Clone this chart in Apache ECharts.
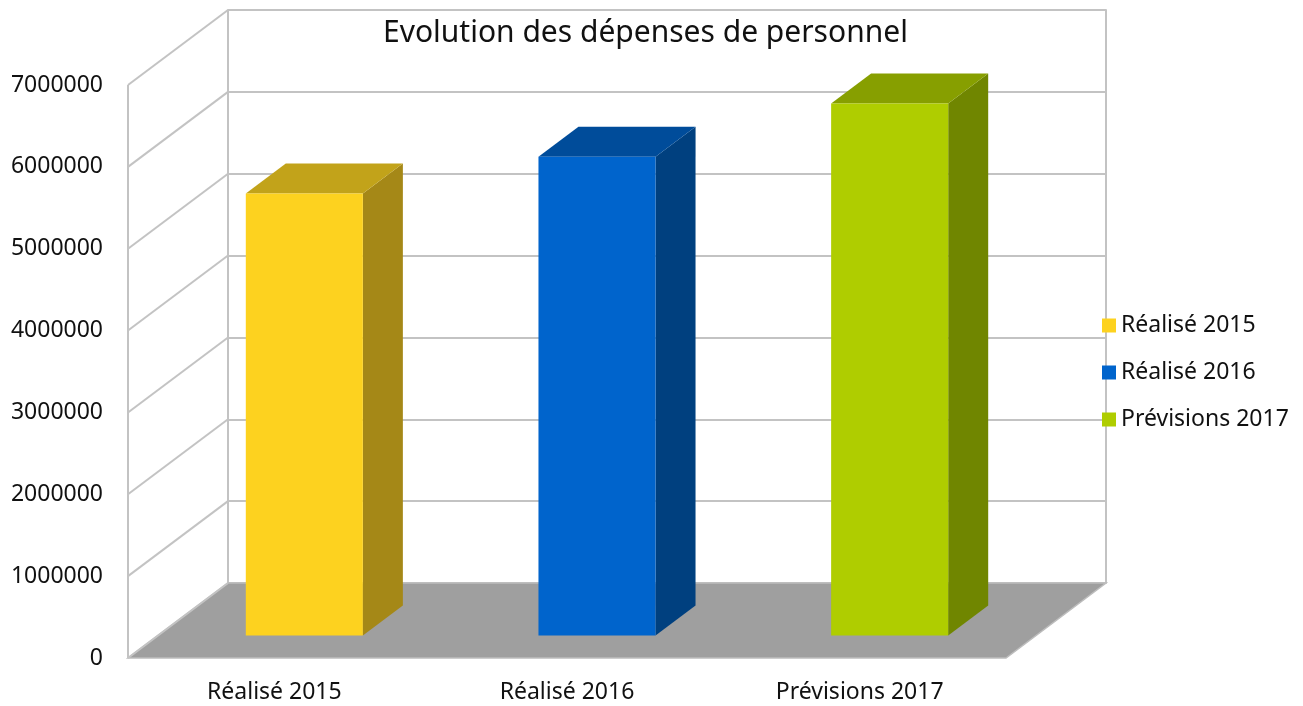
<!DOCTYPE html>
<html>
<head>
<meta charset="utf-8">
<script src="https://cdn.jsdelivr.net/npm/echarts@6/dist/echarts.min.js"></script>
<style>
  html, body { margin: 0; padding: 0; background: #fff; }
  #chart { width: 1303px; height: 706px; }
</style>
</head>
<body>
<div id="chart"></div>
<script>
const categories = ['Réalisé 2015', 'Réalisé 2016', 'Prévisions 2017']
const values = [5400000, 5850000, 6500000]
const yTicks = [0, 1000000, 2000000, 3000000, 4000000, 5000000, 6000000, 7000000]

// face colours: front, top, side
const frontColors = ['#fdd21f', '#0064cc', '#afcd00']
const topColors = ['#c2a31a', '#004c9a', '#879f00']
const sideColors = ['#a58817', '#00407f', '#708600']

// oblique depth of the box (pixels) and bar depth span
const DX = 100
const DY = 75
const F0 = 0.3
const F1 = 0.7
const GRID_LINE = '#c3c3c3'

const chart = echarts.init(document.getElementById('chart'))

const renderFloor = (params, api) => {
  const cs = params.coordSys
  const y = api.coord([0, 0])[1]
  return {
    type: 'polygon',
    shape: {
      points: [
        [cs.x, y], [cs.x + cs.width, y],
        [cs.x + cs.width + DX, y - DY], [cs.x + DX, y - DY],
      ],
    },
    style: { fill: '#9f9f9f', stroke: '#bdbdbd', lineWidth: 1.5 },
  }
}

const renderSideWall = (params, api) => {
  const cs = params.coordSys
  const y = api.coord([0, api.value(1)])[1]
  const children = [{
    type: 'line',
    shape: { x1: cs.x, y1: y, x2: cs.x + DX, y2: y - DY },
    style: { stroke: GRID_LINE, lineWidth: 2 },
  }]
  if (params.dataIndex === 0) {
    children.push({
      type: 'line',
      shape: { x1: cs.x, y1: cs.y, x2: cs.x, y2: cs.y + cs.height },
      style: { stroke: GRID_LINE, lineWidth: 2 },
    })
  }
  return { type: 'group', children }
}

const makeBarRenderer = (idx) => (params, api) => {
  const cat = api.value(0)
  const top = api.coord([cat, api.value(1)])
  const base = api.coord([cat, 0])
  const w = api.size([1, 0])[0] * 0.4
  const x0 = top[0] - w / 2 + F0 * DX
  const x1 = x0 + w
  const yT = top[1] - F0 * DY
  const yB = base[1] - F0 * DY
  const ddx = (F1 - F0) * DX
  const ddy = (F1 - F0) * DY
  return {
    type: 'group',
    children: [
      {
        type: 'polygon',
        shape: { points: [[x1, yT], [x1 + ddx, yT - ddy], [x1 + ddx, yB - ddy], [x1, yB]] },
        style: { fill: sideColors[idx] },
      },
      {
        type: 'polygon',
        shape: { points: [[x0, yT], [x1, yT], [x1 + ddx, yT - ddy], [x0 + ddx, yT - ddy]] },
        style: { fill: topColors[idx] },
      },
      {
        type: 'rect',
        shape: { x: x0, y: yT, width: w, height: yB - yT },
        style: { fill: frontColors[idx] },
      },
    ],
  }
}

const barSeries = categories.map((name, i) => ({
  name,
  type: 'custom',
  xAxisIndex: 1,
  yAxisIndex: 2,
  itemStyle: { color: frontColors[i] },
  renderItem: makeBarRenderer(i),
  encode: { x: 0, y: 1 },
  data: [[i, values[i]]],
  z: 5,
}))

const option = {
  animation: false,
  backgroundColor: '#fff',
  textStyle: { fontFamily: 'Noto Sans' },
  title: {
    text: 'Evolution des dépenses de personnel',
    left: 378,
    top: 13,
    textStyle: { fontFamily: 'Noto Sans', fontSize: 30, fontWeight: 'normal', color: '#111' },
  },
  legend: {
    orient: 'vertical',
    left: 1097,
    top: 309,
    itemWidth: 14,
    itemHeight: 14,
    itemGap: 24,
    icon: 'rect',
    data: categories,
    textStyle: { fontFamily: 'Noto Sans', fontSize: 23, color: '#111' },
  },
  grid: [
    // back wall
    { left: 228, top: 10, width: 878, height: 573, outerBoundsMode: 'none' },
    // front plane
    { left: 128, top: 85, width: 878, height: 573, outerBoundsMode: 'none' },
  ],
  xAxis: [
    { type: 'category', gridIndex: 0, data: categories, show: false },
    {
      type: 'category',
      gridIndex: 1,
      data: categories,
      axisLine: { show: false },
      axisTick: { show: false },
      axisLabel: { fontFamily: 'Noto Sans', fontSize: 23, color: '#111', margin: 23 },
    },
  ],
  yAxis: [
    {
      type: 'value',
      gridIndex: 0,
      min: 0,
      max: 7000000,
      interval: 1000000,
      axisLabel: { show: false },
      axisTick: { show: false },
      axisLine: { show: true, lineStyle: { color: GRID_LINE, width: 2 } },
      splitLine: { show: true, lineStyle: { color: GRID_LINE, width: 2 } },
    },
    {
      type: 'value',
      gridIndex: 0,
      position: 'right',
      min: 0,
      max: 7000000,
      interval: 1000000,
      axisLabel: { show: false },
      axisTick: { show: false },
      axisLine: { show: true, lineStyle: { color: GRID_LINE, width: 2 } },
      splitLine: { show: false },
    },
    {
      type: 'value',
      gridIndex: 1,
      min: 0,
      max: 7000000,
      interval: 1000000,
      axisLine: { show: false },
      axisTick: { show: false },
      splitLine: { show: false },
      axisLabel: {
        fontFamily: 'Noto Sans',
        fontSize: 23,
        color: '#111',
        margin: 25,
        padding: [6, 0, 0, 0],
        formatter: (v) => String(v),
      },
    },
  ],
  series: [
    {
      name: 'floor',
      type: 'custom',
      xAxisIndex: 1,
      yAxisIndex: 2,
      silent: true,
      renderItem: renderFloor,
      data: [[0, 0]],
      z: 1,
    },
    {
      name: 'side wall',
      type: 'custom',
      xAxisIndex: 1,
      yAxisIndex: 2,
      silent: true,
      renderItem: renderSideWall,
      data: yTicks.map(v => [0, v]),
      z: 2,
    },
    ...barSeries,
  ],
}

chart.setOption(option)
</script>
</body>
</html>
